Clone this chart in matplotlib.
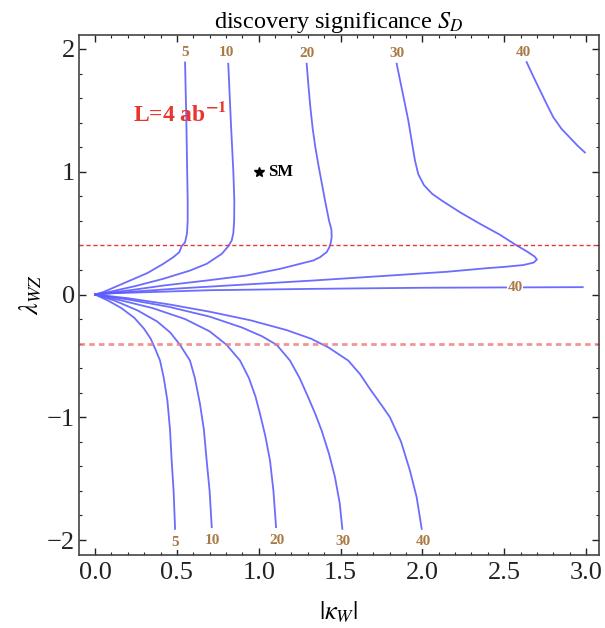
import numpy as np
import matplotlib
matplotlib.use('Agg')
import matplotlib.pyplot as plt
from matplotlib.ticker import MultipleLocator

plt.rcParams['font.family'] = ['Liberation Serif', 'DejaVu Serif']
plt.rcParams['mathtext.fontset'] = 'stix'

# contour lines: (|kappa_W|, lambda_WZ)
c5_up_x = [0.55, 0.558, 0.563, 0.566, 0.566, 0.562, 0.55, 0.529, 0.515, 0.478, 0.417, 0.32, 0.214, 0.12, 0.05, 0.0]
c5_up_y = [1.89, 1.4, 1.0, 0.766, 0.6, 0.5, 0.426, 0.393, 0.345, 0.304, 0.25, 0.175, 0.114, 0.06, 0.02, 0.0]
c10_up_x = [0.814, 0.83, 0.845, 0.851, 0.85, 0.845, 0.835, 0.814, 0.774, 0.682, 0.58, 0.417, 0.25, 0.1, 0.0]
c10_up_y = [1.88, 1.4, 1.0, 0.766, 0.6, 0.5, 0.44, 0.393, 0.331, 0.25, 0.195, 0.128, 0.07, 0.025, 0.0]
c20_up_x = [1.293, 1.304, 1.316, 1.33, 1.346, 1.364, 1.385, 1.405, 1.43, 1.444, 1.446, 1.44, 1.43, 1.415, 1.375,
            1.333, 1.13, 0.927, 0.682, 0.417, 0.214, 0.0]
c20_up_y = [1.88, 1.7, 1.52, 1.35, 1.2, 1.06, 0.91, 0.766, 0.6, 0.53, 0.47, 0.42, 0.38, 0.345, 0.304,
            0.277, 0.209, 0.155, 0.114, 0.073, 0.035, 0.0]
c30_up_x = [1.843, 1.866, 1.89, 1.914, 1.935, 1.955, 1.975, 2.01, 2.06, 2.118, 2.23, 2.352, 2.47, 2.576, 2.64,
            2.685, 2.7, 2.68, 2.617, 2.5, 2.4, 2.148, 1.75, 1.333, 0.9, 0.519, 0.25, 0.0]
c30_up_y = [1.88, 1.73, 1.575, 1.418, 1.25, 1.09, 0.98, 0.89, 0.82, 0.766, 0.67, 0.576, 0.49, 0.4, 0.35,
            0.31, 0.285, 0.26, 0.24, 0.225, 0.215, 0.185, 0.15, 0.114, 0.08, 0.05, 0.025, 0.0]
c40_mid_x = [0.0, 0.1, 0.316, 0.7, 1.33, 2.0, 2.98]
c40_mid_y = [0.0, 0.01, 0.019, 0.035, 0.046, 0.055, 0.06]
c40_up_x = [2.637, 2.68, 2.72, 2.76, 2.80, 2.85, 2.9, 2.95, 2.993]
c40_up_y = [1.893, 1.77, 1.66, 1.55, 1.444, 1.35, 1.28, 1.21, 1.157]

c5_lo_x = [0.0, 0.08, 0.16, 0.24, 0.3, 0.34, 0.37, 0.397, 0.42, 0.442, 0.458, 0.468, 0.48, 0.489]
c5_lo_y = [0.0, -0.05, -0.11, -0.19, -0.28, -0.36, -0.45, -0.538, -0.68, -0.864, -1.1, -1.352, -1.6, -1.909]
c10_lo_x = [0.0, 0.12, 0.26, 0.38, 0.46, 0.519, 0.58, 0.61, 0.641, 0.665, 0.682, 0.7, 0.713]
c10_lo_y = [0.0, -0.05, -0.13, -0.22, -0.31, -0.41, -0.538, -0.68, -0.89, -1.1, -1.352, -1.6, -1.895]
c20_lo_x = [0.0, 0.15, 0.35, 0.55, 0.7, 0.804, 0.886, 0.94, 0.98, 1.008, 1.04, 1.069, 1.09, 1.106]
c20_lo_y = [0.0, -0.045, -0.11, -0.2, -0.3, -0.41, -0.538, -0.68, -0.83, -0.972, -1.15, -1.352, -1.6, -1.895]
c30_lo_x = [0.0, 0.2, 0.45, 0.7, 0.9, 1.02, 1.11, 1.191, 1.25, 1.3, 1.345, 1.385, 1.43, 1.466, 1.495, 1.511]
c30_lo_y = [0.0, -0.04, -0.1, -0.18, -0.27, -0.34, -0.41, -0.538, -0.68, -0.83, -0.97, -1.11, -1.3, -1.488, -1.7, -1.909]
c40_lo_x = [0.0, 0.2, 0.45, 0.7, 0.95, 1.171, 1.32, 1.425, 1.547, 1.62, 1.68, 1.75, 1.802, 1.87, 1.924, 1.965, 1.996]
c40_lo_y = [0.0, -0.03, -0.08, -0.14, -0.21, -0.29, -0.36, -0.43, -0.538, -0.65, -0.77, -0.9, -1.0, -1.2, -1.434, -1.65, -1.909]

curves = [(c5_up_x, c5_up_y), (c10_up_x, c10_up_y), (c20_up_x, c20_up_y), (c30_up_x, c30_up_y),
          (c40_mid_x, c40_mid_y), (c40_up_x, c40_up_y),
          (c5_lo_x, c5_lo_y), (c10_lo_x, c10_lo_y), (c20_lo_x, c20_lo_y), (c30_lo_x, c30_lo_y),
          (c40_lo_x, c40_lo_y)]

# contour labels
lab_text = ['5', '10', '20', '30', '40', '5', '10', '20', '30', '40', '40']
lab_x = [0.55, 0.804, 1.293, 1.843, 2.616, 0.489, 0.717, 1.11, 1.513, 2.006, 2.566]
lab_y = [1.97, 1.97, 1.96, 1.96, 1.97, -2.018, -2.0, -2.0, -2.012, -2.012, 0.055]

cut_y = [0.4, -0.4]
sm_x, sm_y = 1.0, 1.0

fig = plt.figure(figsize=(6.05, 6.28), dpi=100)
ax = fig.add_axes([0.1306, 0.1162, 0.8594, 0.8281])

for cx, cy in curves:
    ax.plot(cx, cy, color='#5c5cff', lw=1.3, alpha=0.9, solid_joinstyle='round')

ax.axhline(cut_y[0], color='#e83a3a', lw=1.0, ls=(0, (3, 2)))
ax.axhline(cut_y[1], color='#f07a7a', lw=2.0, ls=(0, (2, 1.5)), alpha=0.8)

for t, x, y in zip(lab_text, lab_x, lab_y):
    ax.text(x, y, t, color='#a97a45', fontsize=11, fontweight='bold', ha='center', va='center',
            bbox=dict(facecolor='white', edgecolor='none', pad=0.5))

ax.plot(sm_x, sm_y, marker='*', color='black', ms=7.5, ls='none')
ax.text(1.06, 1.0, 'SM', fontsize=12, fontweight='bold', va='center')
ax.text(0.232, 1.47, r'L=4 ab$^{\mathbf{-1}}$', color='#e8362d', fontsize=17, fontweight='bold', va='center')

ax.set_xlim(-0.098, 3.079)
ax.set_ylim(-2.122, 2.114)
ax.xaxis.set_major_locator(MultipleLocator(0.5))
ax.xaxis.set_minor_locator(MultipleLocator(0.1))
ax.yaxis.set_major_locator(MultipleLocator(1))
ax.yaxis.set_minor_locator(MultipleLocator(0.2))
ax.xaxis.set_major_formatter(plt.FuncFormatter(lambda v, p: '%.1f' % v))
ax.yaxis.set_major_formatter(plt.FuncFormatter(lambda v, p: ('\u2212%d' % -v) if v < 0 else '%d' % v))
ax.tick_params(which='both', direction='in', top=True, right=True, labelsize=19, colors='#222222')
ax.tick_params(axis='x', pad=5)
ax.tick_params(axis='y', pad=3)
ax.tick_params(which='major', length=5, width=1)
ax.tick_params(which='minor', length=2.5, width=0.8)
for sp in ax.spines.values():
    sp.set_color('#444444')
    sp.set_linewidth(1.2)

ax.set_title(r'discovery significance $S_D$', fontsize=17.5, pad=5)
ax.set_xlabel(r'$|\kappa_W|$', fontsize=19, labelpad=11)
ax.set_ylabel(r'$\lambda_{WZ}$', fontsize=19, labelpad=2)

fig.savefig('out.png', dpi=100)
